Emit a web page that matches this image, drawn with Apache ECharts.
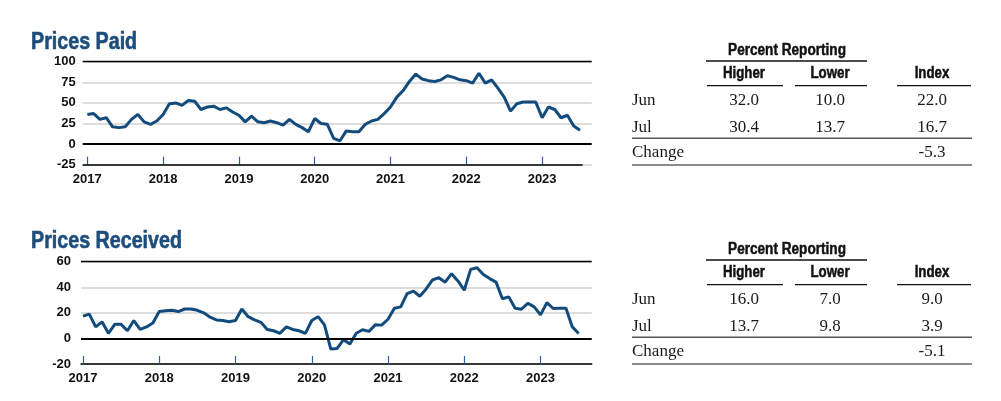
<!DOCTYPE html>
<html><head><meta charset="utf-8">
<script src="https://cdn.jsdelivr.net/npm/echarts@6/dist/echarts.min.js"></script>
<style>html,body{margin:0;padding:0;background:#fff}#c{width:1001px;height:401px}</style>
</head><body><div id="c"></div>
<script>
// ---- data ----
const yearLabels = ['2017','2018','2019','2020','2021','2022','2023'];
const pricesPaid = [36,37,30,32,21,20,21,30,36,27,24,28,
  36,49,50,47,53,52,42,45,46,42,44,39,
  35,27,34,27,26,28,26,23,30,24,20,15,
  31,25,24,7,4,16,15,15,24,28,30,37,
  45,57,65,76,85,79,77,76,78,83,81,78,
  77,74,86,74,78,68,57,40,49,51,51,51,
  32,45,42,32,35,22.0,16.7];
const pricesReceived = [17.4,19,9,13,4,11,11,6,14,7,9,12,
  21,21.6,22,21,23,23,22,20,16.6,14.5,14,13,
  14,23,17,14.5,12.6,7,6,4,9,7,6,4,
  14,17,10.6,-8.3,-7.8,-1,-4.4,4,6.8,5.5,10.6,10.4,
  15,23.6,24.7,35,37,33,38.7,45.7,47.5,44,50.6,45,
  37.7,54,55.3,50,46.8,44,31,32.5,23.6,22.9,27.5,24.7,
  18.4,28,23.4,23.6,23.6,9.0,3.9];
const titles = ['Prices Paid','Prices Received'];
const tableHeader = 'Percent Reporting';
const colHeaders = ['Higher','Lower','Index'];
const rowLabels = ['Jun','Jul','Change'];
const paidTable = [['32.0','10.0','22.0'],['30.4','13.7','16.7'],['','','-5.3']];
const receivedTable = [['16.0','7.0','9.0'],['13.7','9.8','3.9'],['','','-5.1']];

// ---- chart ----
const LINE = '#124b7c';
const tickVals = yearLabels.map((_, i) => i * 12);
const toPairs = arr => arr.map((v, i) => [i, v]);
const sans = "Liberation Sans, Arial, sans-serif";
const serif = "Liberation Serif, Times New Roman, serif";

function xAxis(gi, min, max, showLine) {
  return {
    type: 'value', gridIndex: gi, min: min, max: max,
    axisLine: { show: showLine, onZero: false, lineStyle: { color: '#000', width: 1.5 } },
    axisTick: { inside: true, length: 8, customValues: tickVals, lineStyle: { color: '#2a62a8', width: 1.2 } },
    axisLabel: { customValues: tickVals, margin: 8, color: '#111', fontWeight: 'bold', fontSize: 13,
      fontFamily: sans,
      formatter: v => yearLabels[Math.round(v / 12)] },
    splitLine: { show: false }
  };
}
function yAxis(gi, min, max, interval, margin) {
  return {
    type: 'value', gridIndex: gi, min: min, max: max, interval: interval,
    axisLine: { show: false }, axisTick: { show: false },
    axisLabel: { margin: margin, color: '#111', fontWeight: 'bold', fontSize: 13, fontFamily: sans },
    splitLine: { lineStyle: { color: '#d2d2d2', width: 1.5 } }
  };
}
function series(gi, data, bottom, top, xmin, axisEnd) {
  const ml = [
    { yAxis: 0, lineStyle: { color: '#000', width: 2.2, type: 'solid' } },
    { yAxis: top, lineStyle: { color: '#000', width: 1.3, type: 'solid' } }
  ];
  if (axisEnd !== null) {
    ml.push([{ coord: [xmin, bottom], lineStyle: { color: '#000', width: 1.5, type: 'solid' } },
             { coord: [axisEnd, bottom] }]);
  }
  return {
    type: 'line', xAxisIndex: gi, yAxisIndex: gi, data: toPairs(data),
    showSymbol: false, symbol: 'none', lineStyle: { color: LINE, width: 3 }, z: 3,
    markLine: { silent: true, symbol: 'none', label: { show: false }, animation: false, data: ml }
  };
}

// titles and tables as graphic elements
const graphics = [];
function txt(text, x, y, size, weight, family, align, sx, fill, strokeW) {
  const st = { text: text, x: 0, y: 0, fontSize: size, fontWeight: weight, fontFamily: family,
      fill: fill || '#1a1a1a',
      textAlign: align, textVerticalAlign: 'middle', align: align, verticalAlign: 'middle' };
  if (strokeW) { st.stroke = fill || '#1a1a1a'; st.lineWidth = strokeW; }
  graphics.push({ type: 'text', x: x, y: y, scaleX: sx, scaleY: 1, style: st });
}
function ln(x1, x2, y, color, w) {
  graphics.push({ type: 'line', shape: { x1: x1, y1: y, x2: x2, y2: y }, style: { stroke: color, lineWidth: w } });
}
function addTable(b, rows) {
  const colX = [744, 830, 932];
  txt(tableHeader, 787, b + 1, 16, 'bold', sans, 'center', 0.85, '#111', 0.5);
  ln(706, 867, b + 11, '#111', 1.3);
  colHeaders.forEach((h, i) => txt(h, colX[i], b + 24, 16, 'bold', sans, 'center', 0.83, '#111', 0.5));
  ln(707, 783, b + 35.7, '#111', 1.3);
  ln(795, 867, b + 35.7, '#111', 1.3);
  ln(897, 971, b + 35.7, '#111', 1.3);
  const rowY = [b + 51, b + 78, b + 103];
  rowLabels.forEach((r, i) => {
    txt(r, 632, rowY[i], 17, 'normal', serif, 'left', 1);
    rows[i].forEach((v, j) => { if (v) txt(v, colX[j], rowY[i], 17, 'normal', serif, 'center', 1); });
  });
  ln(632, 972, b + 88.3, '#555', 1.5);
  ln(632, 972, b + 115, '#666', 1.5);
}
txt(titles[0], 31, 42, 24, 'bold', sans, 'left', 0.82, '#1d4d7c', 0.6);
txt(titles[1], 31, 241, 24, 'bold', sans, 'left', 0.82, '#1d4d7c', 0.6);
addTable(50, paidTable);
addTable(249, receivedTable);

const chart = echarts.init(document.getElementById('c'), null, { renderer: 'canvas' });
chart.setOption({
  animation: false,
  grid: [
    { left: 82.7, top: 61.7, width: 509, height: 103, containLabel: false },
    { left: 81, top: 261.7, width: 510.7, height: 102.3, containLabel: false }
  ],
  xAxis: [xAxis(0, -0.73, 79.85, false), xAxis(1, -0.31, 80.05, true)],
  yAxis: [yAxis(0, -25, 100, 25, 7), yAxis(1, -20, 60, 20, 10)],
  series: [series(0, pricesPaid, -25, 100, -0.73, 78.4), series(1, pricesReceived, -20, 60, -0.31, null)],
  graphic: graphics
});
</script>
</body></html>
